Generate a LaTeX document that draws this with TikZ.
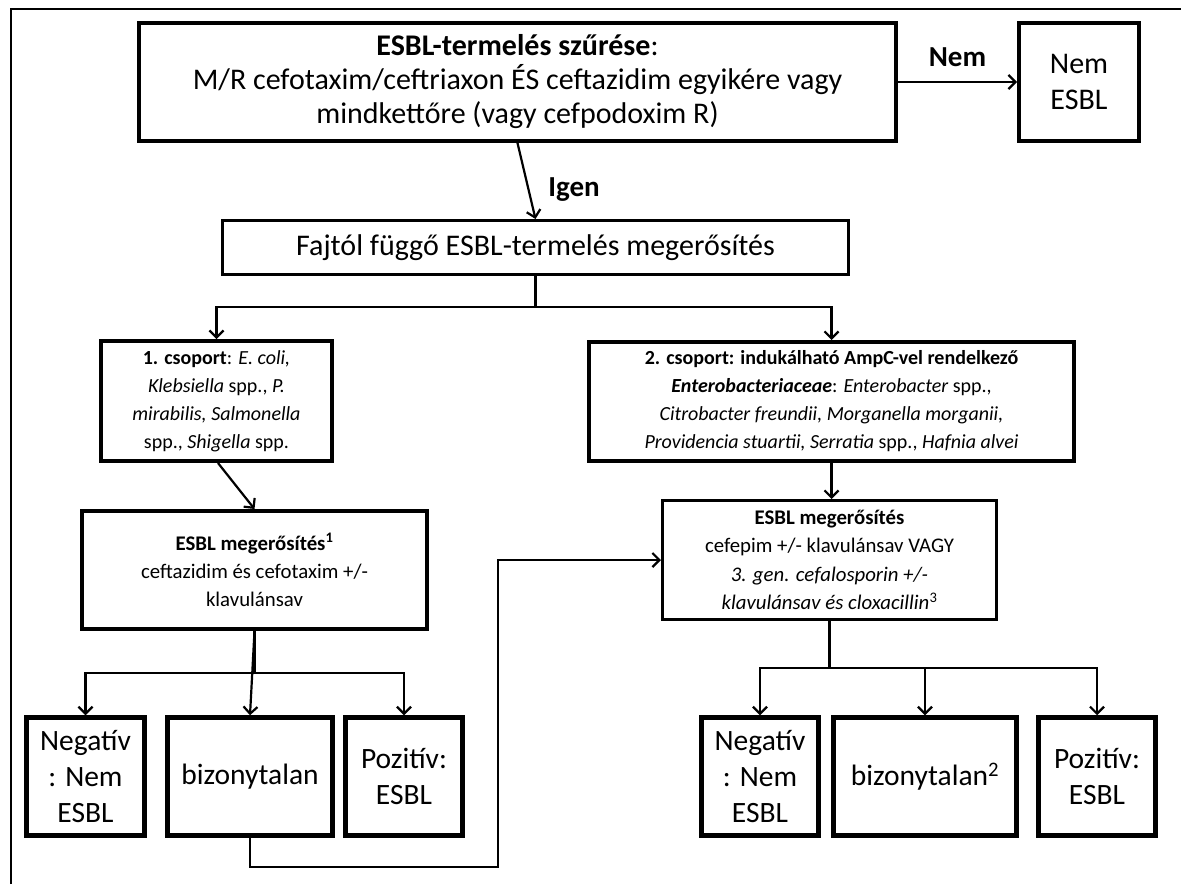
\documentclass[tikz,border=0pt]{standalone}
\usepackage{fontspec}
\setmainfont{Carlito}
\usepackage{tikz}
\usetikzlibrary{positioning, calc, arrows.meta}
\newcommand{\bigtxt}{\fontsize{30}{34}\selectfont}
\newcommand{\restxt}{\fontsize{29.5}{36}\selectfont}
\newcommand{\smalltxt}{\fontsize{20}{28}\selectfont}
\newcommand{\conftxt}{\fontsize{20.8}{28.3}\selectfont}
\tikzset{
  stepbox/.style={draw, line width=4pt, align=center, inner sep=0pt, font=\bigtxt},
  groupbox/.style={draw, line width=4pt, align=center, inner sep=0pt, font=\smalltxt},
  confbox/.style={groupbox, font=\conftxt},
  resultbox/.style={draw, line width=4.5pt, align=center, inner sep=0pt, font=\restxt,
                    minimum height=118pt},
  link/.style={line width=2.2pt, -{Straight Barb[length=7pt,width=14pt]}},
  lbl/.style={font=\fontsize{29}{34}\selectfont\bfseries, inner sep=0pt}
}

\begin{document}
\begin{tikzpicture}[x=1pt, y=-1pt]
\useasboundingbox (0,0) rectangle (1181,884);
% frame of the table cell
\draw[line width=2.5pt] (11,884) -- (11,9) -- (1181,9);

% screening
\node[stepbox, minimum width=757pt, minimum height=118pt] (screen) at (517.5,82)
  {\textbf{ESBL-termelés szűrése}:\\
   M/R cefotaxim/ceftriaxon ÉS ceftazidim egyikére vagy\\
   mindkettőre (vagy cefpodoxim R)};
\node[stepbox, minimum width=120pt, minimum height=118pt] (nemesbl) at (1079,82) {Nem\\[2pt]ESBL};
\node[stepbox, line width=3pt, minimum width=626pt, minimum height=54pt] (fajtol) at (535.5,247.5)
  {Fajtól függő ESBL-termelés megerősítés};

% groups
\node[groupbox, minimum width=231pt, minimum height=120pt] (group1) at (216.5,401)
  {\textbf{1. csoport}: \textit{E. coli,}\\
   \textit{Klebsiella} spp., \textit{P.}\\
   \textit{mirabilis, Salmonella}\\
   spp., \textit{Shigella} spp.};
\node[groupbox, minimum width=485pt, minimum height=119pt] (group2) at (831.5,401.5)
  {\textbf{2. csoport: indukálható AmpC-vel rendelkező}\\
   \textbf{\textit{Enterobacteriaceae}}: \textit{Enterobacter} spp.,\\
   \textit{Citrobacter freundii, Morganella morganii,}\\
   \textit{Providencia stuartii, Serratia} spp., \textit{Hafnia alvei}};

% confirmation
\node[confbox, minimum width=345pt, minimum height=118pt] (confirm1) at (254.5,570)
  {\textbf{ESBL megerősítés}\textsuperscript{\textbf{1}}\\
   ceftazidim és cefotaxim +/-\\
   klavulánsav};
\node[confbox, line width=3pt, minimum width=334pt, minimum height=119pt] (confirm2) at (829.5,560)
  {\textbf{ESBL megerősítés}\\
   cefepim +/- klavulánsav VAGY\\
   \textit{3. gen. cefalosporin +/-}\\
   \textit{klavulánsav és cloxacillin}\textsuperscript{3}};

% results
\node[resultbox, minimum width=118pt] (neg1) at (85.5,776.5) {Negatív\\: Nem\\ESBL};
\node[resultbox, minimum width=165pt] (unc1) at (250,776.5) {bizonytalan};
\node[resultbox, minimum width=117pt] (pos1) at (404,776.5) {Pozitív:\\ESBL};
\node[resultbox, minimum width=117pt] (neg2) at (760,776.5) {Negatív\\: Nem\\ESBL};
\node[resultbox, minimum width=183pt] (unc2) at (925,776.5) {bizonytalan\textsuperscript{2}};
\node[resultbox, minimum width=117pt] (pos2) at (1097,776.5) {Pozitív:\\ESBL};

% connectors
\draw[link] (screen) -- (nemesbl) node[lbl, midway, above=14pt] (nem) {Nem};
\draw[link] (screen.south) -- (fajtol.north);
\node[lbl] (igen) at (574,190) {Igen};
\draw[link] (fajtol.south) -- ++(0,31) -| (group1.north);
\draw[link] (fajtol.south) -- ++(0,31) -| (group2.north);
\draw[link] ([xshift=1.5pt]group1.south) -- (confirm1.north);
\draw[link] (group2.south) -- (group2.south |- confirm2.north);

\draw[link] (confirm1.south) -- ++(0,42) -| (neg1.north);
\draw[link] (confirm1.south) -- ++(0,42) -| (pos1.north);
\draw[link] (confirm1.south) -- (unc1.north);

\draw[link] (confirm2.south) -- ++(0,47) -| (neg2.north);
\draw[link] (confirm2.south) -- ++(0,47) -| (unc2.north);
\draw[link] (confirm2.south) -- ++(0,47) -| (pos2.north);

\coordinate (turn) at (498,867);
\draw[link] (unc1.south) |- (turn) |- (confirm2.west);
\end{tikzpicture}
\end{document}
